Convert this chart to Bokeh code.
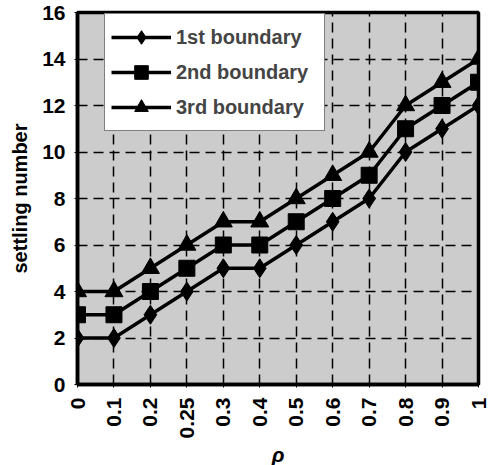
from bokeh.plotting import figure
from bokeh.models import Range1d, FixedTicker, Legend, LegendItem
from bokeh.embed import file_html
from bokeh.resources import INLINE
import math

rho_labels = ["0", "0.1", "0.2", "0.25", "0.3", "0.4", "0.5", "0.6", "0.7", "0.8", "0.9", "1"]
first_boundary = [2, 2, 3, 4, 5, 5, 6, 7, 8, 10, 11, 12]
second_boundary = [3, 3, 4, 5, 6, 6, 7, 8, 9, 11, 12, 13]
third_boundary = [4, 4, 5, 6, 7, 7, 8, 9, 10, 12, 13, 14]
y_ticks = [0, 2, 4, 6, 8, 10, 12, 14, 16]

xs = list(range(len(rho_labels)))

FW, FH = 401, 372
p = figure(frame_width=FW, frame_height=FH, output_backend="svg", toolbar_location=None,
           x_range=Range1d(0, len(rho_labels) - 1), y_range=Range1d(0, 16),
           min_border_left=77, min_border_right=12, min_border_top=12, min_border_bottom=2)

p.background_fill_color = "#cccccc"
p.border_fill_color = "white"
p.outline_line_color = "black"
p.outline_line_width = 3.5

p.xaxis.ticker = FixedTicker(ticks=xs)
p.xaxis.major_label_overrides = {i: l for i, l in enumerate(rho_labels)}
p.xaxis.major_label_orientation = math.pi / 2
p.yaxis.ticker = FixedTicker(ticks=y_ticks)

for ax in (p.xaxis, p.yaxis):
    ax.axis_line_color = "black"
    ax.axis_line_width = 3.5
    ax.major_tick_line_color = "black"
    ax.major_tick_out = 3
    ax.major_tick_in = 0
    ax.minor_tick_line_color = None
    ax.major_label_text_font = "Liberation Sans"
    ax.major_label_text_font_size = "21px"
    ax.major_label_text_font_style = "bold"
    ax.major_label_text_color = "black"
    ax.axis_label_text_font = "Liberation Sans"
    ax.axis_label_text_color = "black"

p.yaxis.major_label_standoff = 9
p.xaxis.major_label_standoff = 10
p.xaxis.axis_label = "ρ"
p.xaxis.axis_label_text_font_size = "21px"
p.xaxis.axis_label_text_font_style = "bold italic"
p.xaxis.axis_label_standoff = 2
p.yaxis.axis_label = "settling number"
p.yaxis.axis_label_text_font_size = "20px"
p.yaxis.axis_label_text_font_style = "bold"
p.yaxis.axis_label_standoff = 8

for g in (p.xgrid, p.ygrid):
    g.grid_line_color = "black"
    g.grid_line_width = 1.5
    g.grid_line_dash = "10 6"
p.xgrid.ticker = FixedTicker(ticks=xs)
p.ygrid.ticker = FixedTicker(ticks=y_ticks)

l1 = p.line(xs, first_boundary, line_color="black", line_width=3.5)
m1 = p.scatter(xs, first_boundary, marker="diamond", size=19, color="black")
l2 = p.line(xs, second_boundary, line_color="black", line_width=3.5)
m2 = p.scatter(xs, second_boundary, marker="square", size=16, color="black")
l3 = p.line(xs, third_boundary, line_color="black", line_width=3.5)
m3 = p.scatter(xs, third_boundary, marker="triangle", size=18, color="black")

legend = Legend(items=[
    LegendItem(label="1st boundary", renderers=[l1, m1]),
    LegendItem(label="2nd boundary", renderers=[l2, m2]),
    LegendItem(label="3rd boundary", renderers=[l3, m3]),
], location=(27, FH - 6 - 113))
legend.border_line_color = "black"
legend.border_line_width = 1.5
legend.background_fill_color = "white"
legend.background_fill_alpha = 1
legend.label_text_font = "Liberation Sans"
legend.label_text_font_size = "20px"
legend.label_text_font_style = "bold"
legend.glyph_width = 60
legend.glyph_height = 34
legend.label_height = 34
legend.spacing = 1
legend.padding = 6
legend.margin = 0
legend.label_standoff = 5
legend.label_width = 142
p.add_layout(legend)

open("out.html", "w").write(file_html(p, INLINE))
